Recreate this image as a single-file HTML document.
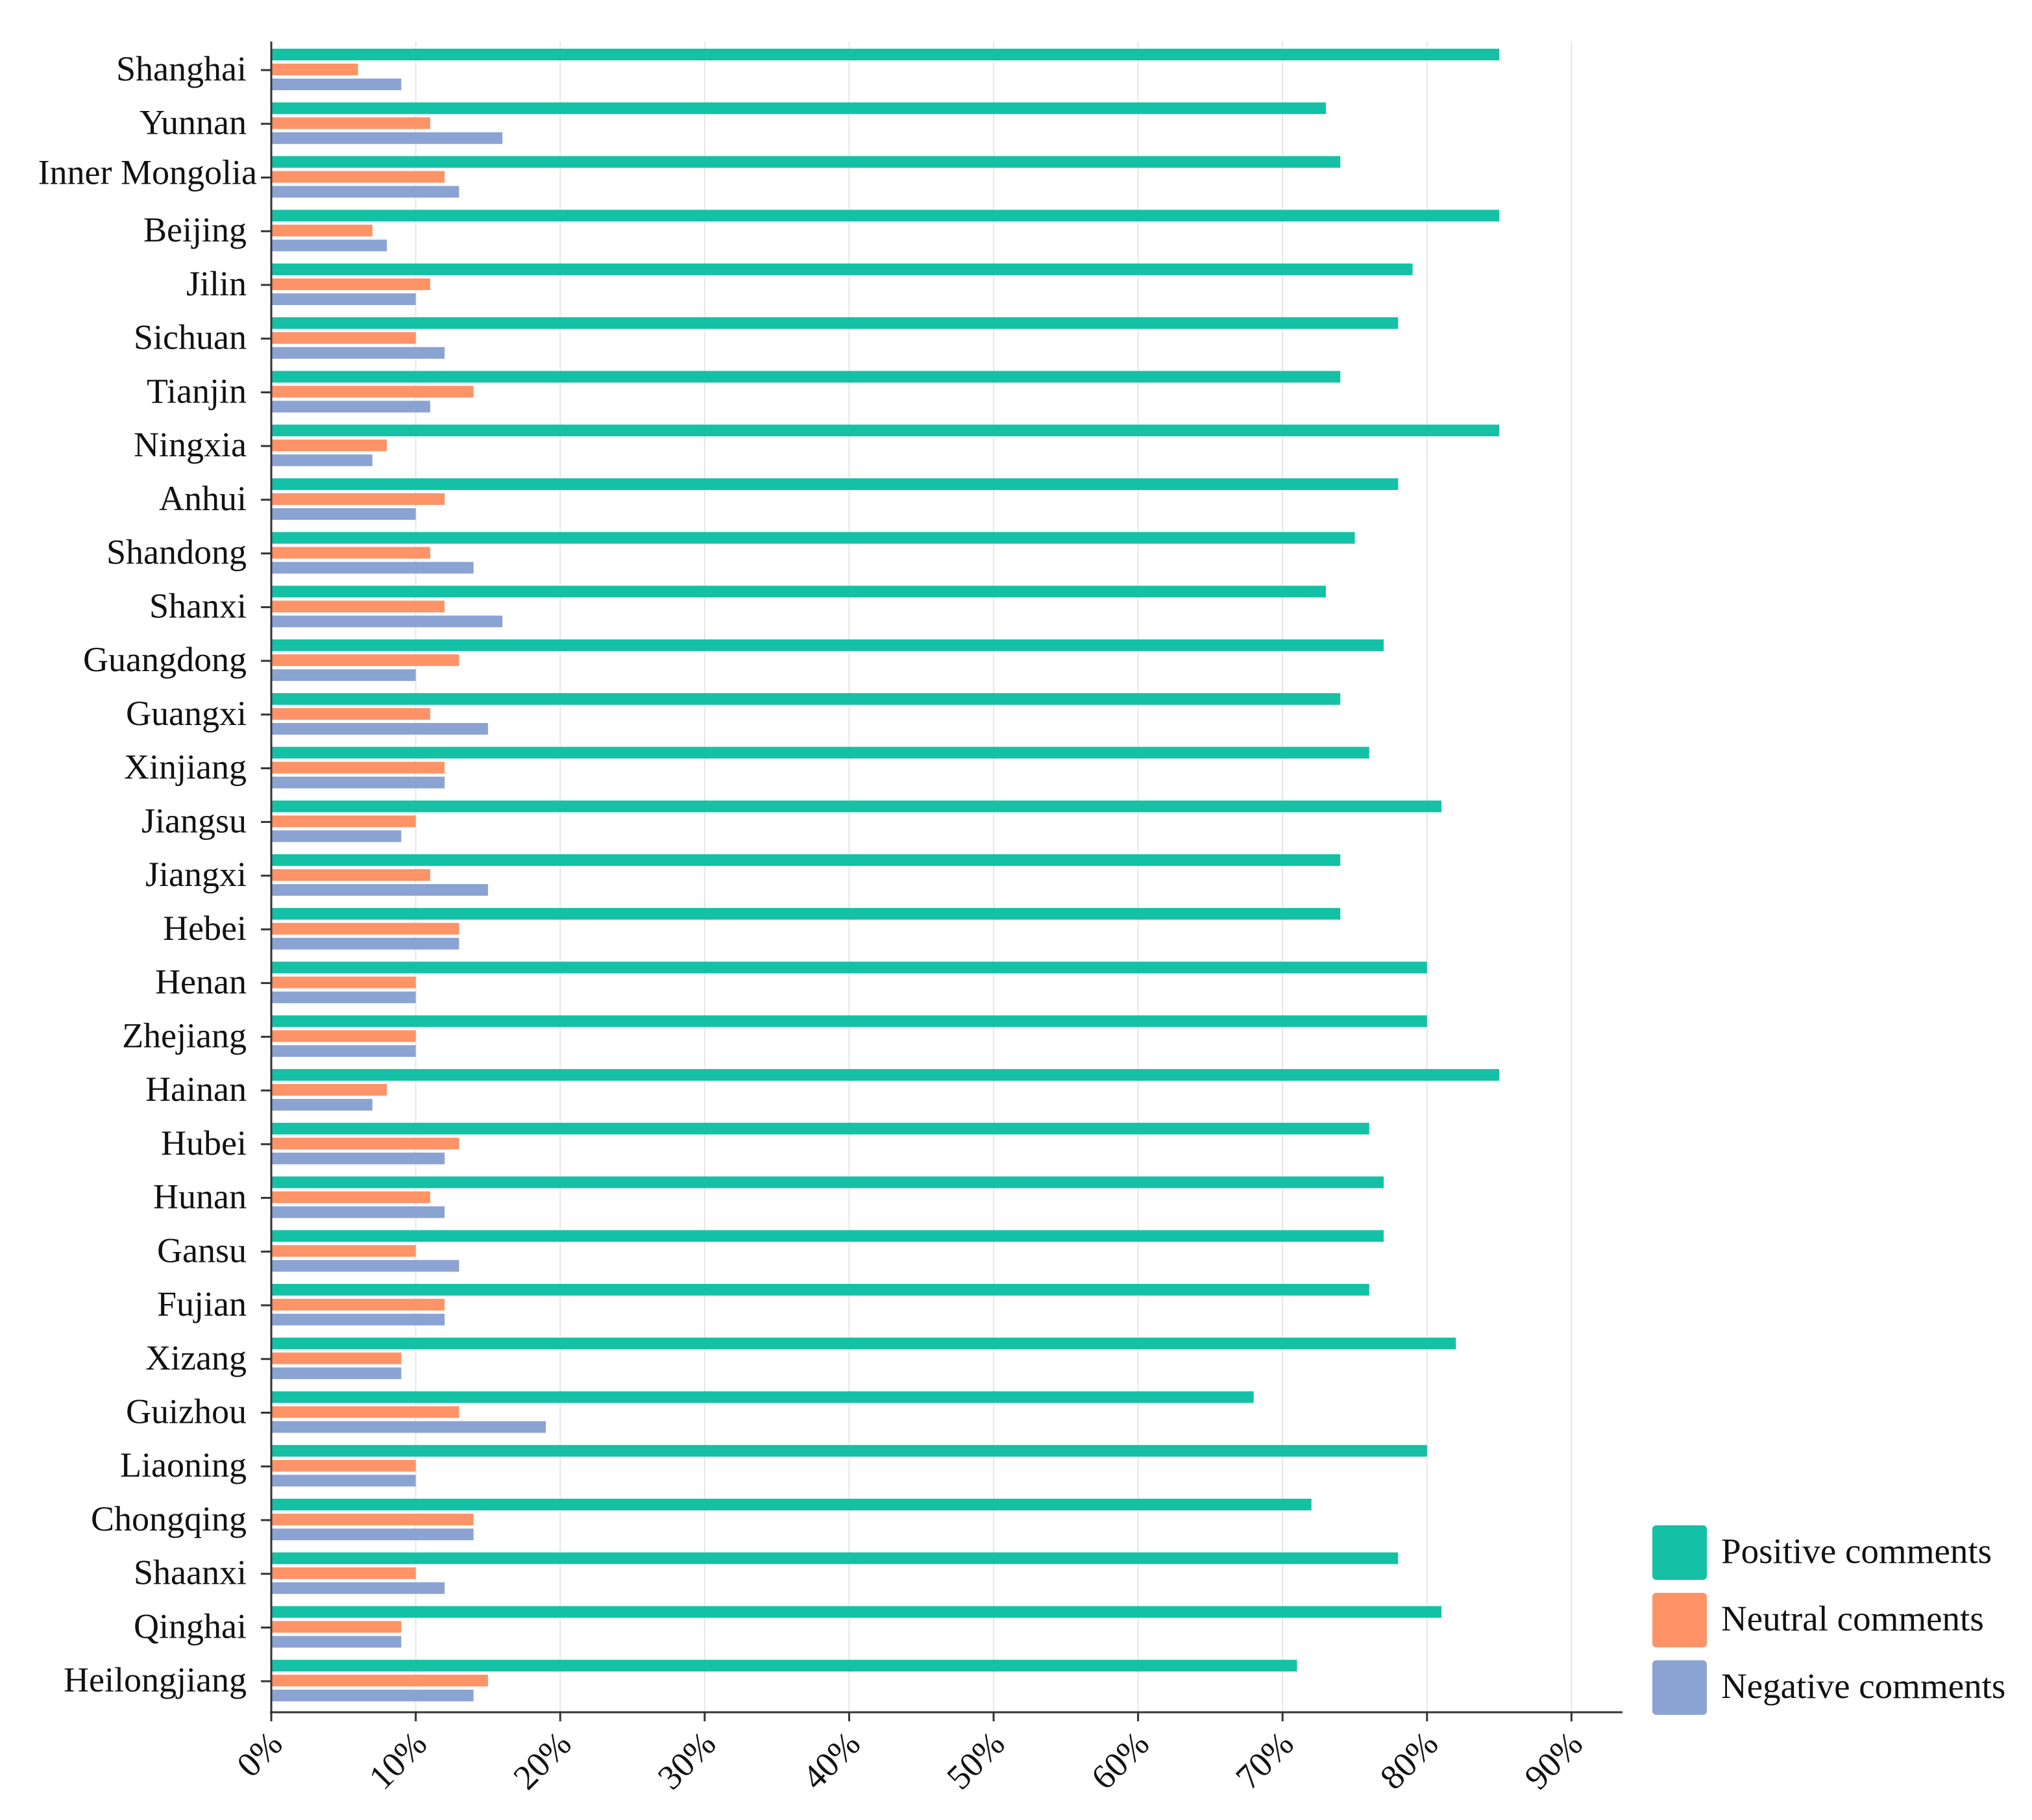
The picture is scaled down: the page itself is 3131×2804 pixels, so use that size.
<!DOCTYPE html>
<html><head><meta charset="utf-8"><style>html,body{margin:0;padding:0;background:#fff}svg{display:block}</style></head>
<body>
<svg id="chart" width="3131" height="2804" viewBox="0 0 1565.5 1402" xmlns="http://www.w3.org/2000/svg" font-family="'Liberation Serif', serif">
</svg>
<script>
const categories = ["Shanghai","Yunnan","Inner  Mongolia","Beijing","Jilin","Sichuan","Tianjin","Ningxia","Anhui","Shandong","Shanxi","Guangdong","Guangxi","Xinjiang","Jiangsu","Jiangxi","Hebei","Henan","Zhejiang","Hainan","Hubei","Hunan","Gansu","Fujian","Xizang","Guizhou","Liaoning","Chongqing","Shaanxi","Qinghai","Heilongjiang"];
const positive = [85,73,74,85,79,78,74,85,78,75,73,77,74,76,81,74,74,80,80,85,76,77,77,76,82,68,80,72,78,81,71];
const neutral  = [6,11,12,7,11,10,14,8,12,11,12,13,11,12,10,11,13,10,10,8,13,11,10,12,9,13,10,14,10,9,15];
const negative = [9,16,13,8,10,12,11,7,10,14,16,10,15,12,9,15,13,10,10,7,12,12,13,12,9,19,10,14,12,9,14];
const xTicks = [0,10,20,30,40,50,60,70,80,90];
const seriesNames = ["Positive comments","Neutral comments","Negative comments"];
const colors = ["#14c1a5","#fd9366","#8ba3d2"];

const svg = document.getElementById('chart');
const NS = 'http://www.w3.org/2000/svg';
const x0 = 209, pxPer = 11.13;
const xScale = v => x0 + v * pxPer;
const rowY = i => 42 + i * 41.37;
function mk(tag, attrs, parent){const e=document.createElementNS(NS,tag);for(const k in attrs)e.setAttribute(k,attrs[k]);(parent||svg).appendChild(e);return e;}

xTicks.forEach(t=>{
  if(t===0) return;
  const g = mk('line',{x1:xScale(t),x2:xScale(t),y1:32,y2:1318,stroke:'#e6e6e6','stroke-width':1});
  
  
});
const series=[positive,neutral,negative];
categories.forEach((c,i)=>{
  series.forEach((s,k)=>{
    const cy = rowY(i) + k*11.5;
    const r = mk('rect',{x:x0,y:cy-4.5,width:xScale(s[i])-x0,height:9,fill:colors[k]});
    
    
  });
  const yc = rowY(i)+12;
  const tk = mk('line',{x1:201,x2:209,y1:yc,y2:yc,stroke:'#333','stroke-width':1.5});
  
  
  const special = c.startsWith('Inner');
  const t = mk('text',{x:special?198:190,y:yc+(special?5:8),'text-anchor':'end','font-size':27,fill:'#111','xml:space':'preserve'});
  t.textContent=c;
  
  
});
const ya = mk('line',{x1:209,x2:209,y1:32,y2:1320,stroke:'#333','stroke-width':1.5});


const xa = mk('line',{x1:208,x2:1250,y1:1319,y2:1319,stroke:'#333','stroke-width':1.5});


xTicks.forEach(t=>{
  const x=xScale(t);
  const l = mk('line',{x1:x,x2:x,y1:1319,y2:1326,stroke:'#333','stroke-width':1.5});
  
  
  const tx = mk('text',{x:x+10,y:1345,'text-anchor':'end','font-size':27,fill:'#111',transform:`rotate(-45 ${x+10} 1345)`});
  tx.textContent=t+'%';
  
  
});
seriesNames.forEach((n,k)=>{
  const y=1175+k*52;
  const b = mk('rect',{x:1273,y:y,width:42,height:42,rx:3,fill:colors[k]});
  
  
  const t = mk('text',{x:1326,y:y+29,'font-size':27.5,fill:'#111'});
  t.textContent=n;
  
  
});
</script>
</body></html>
